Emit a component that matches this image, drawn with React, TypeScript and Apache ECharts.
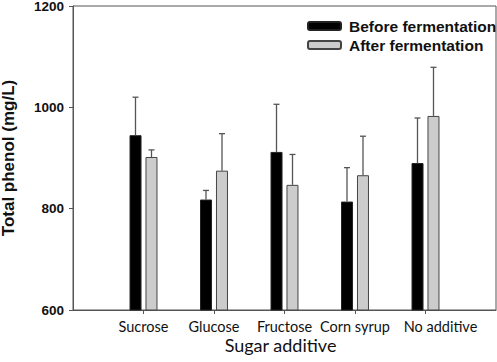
import React, { useEffect, useRef } from "react";
import * as echarts from "echarts";

const categories = ["Sucrose", "Glucose", "Fructose", "Corn syrup", "No additive"];
const beforeMeans = [945, 818, 912, 814, 890];
const beforeErrors = [75, 18, 94, 67, 89];
const afterMeans = [902, 875, 847, 866, 983];
const afterErrors = [14, 73, 60, 77, 96];
const yTicks = { min: 600, max: 1200, interval: 200 };

const BAR_W = 12;
const OFFSET = 8;

function errSeries(means: number[], errs: number[], dx: number) {
  return {
    type: "custom",
    z: 5,
    silent: true,
    data: means.map((m, i) => [i + 1, m, errs[i]]),
    encode: { x: 0, y: [1] },
    renderItem: (params: any, api: any) => {
      const x = api.value(0);
      const m = api.value(1);
      const e = api.value(2);
      const base = api.coord([x, m]);
      const top = api.coord([x, m + e]);
      const cx = base[0] + dx;
      const style = { stroke: "#555", lineWidth: 1.3 };
      return {
        type: "group",
        children: [
          { type: "line", shape: { x1: cx, y1: base[1], x2: cx, y2: top[1] }, style },
          { type: "line", shape: { x1: cx - 3, y1: top[1], x2: cx + 3, y2: top[1] }, style },
        ],
      };
    },
  };
}

export default function App() {
  const ref = useRef<HTMLDivElement>(null);
  useEffect(() => {
    if (!ref.current) return;
    const chart = echarts.init(ref.current, undefined, { renderer: "svg" });
    const axisData: any[] = [
      "",
      ...categories.map((c, i) =>
        i === categories.length - 1
          ? { value: c, textStyle: { padding: [0, 0, 0, 30] } }
          : c
      ),
      "",
    ];
    const pad = (arr: number[]) => [null, ...arr, null];
    chart.setOption({
      animation: false,
      backgroundColor: "#fff",
      grid: {
        left: 73,
        top: 6,
        right: 1,
        bottom: 52,
        show: true,
        borderColor: "#555",
        borderWidth: 1,
        containLabel: false,
        outerBoundsMode: "none",
      },
      legend: {
        data: ["Before fermentation", "After fermentation"],
        orient: "vertical",
        left: 307,
        top: 18,
        padding: 0,
        itemWidth: 33,
        itemHeight: 8,
        itemGap: 3,
        textStyle: {
          fontFamily: "Liberation Sans, Arial",
          fontWeight: "bold",
          fontSize: 15.5,
          color: "#111",
          padding: [0, 0, 0, 3],
        },
      },
      xAxis: {
        type: "category",
        data: axisData,
        boundaryGap: false,
        axisLine: { lineStyle: { color: "#555", width: 1 } },
        axisTick: {
          length: 4,
          interval: (i: number) => i > 0 && i < axisData.length - 1,
          lineStyle: { color: "#555" },
        },
        axisLabel: {
          interval: 0,
          margin: 10,
          lineHeight: 13,
          fontFamily: "Lato, Noto Sans",
          fontSize: 14.5,
          color: "#111",
        },
        name: "Sugar additive",
        nameLocation: "middle",
        nameGap: 27,
        nameMoveOverlap: false,
        nameTextStyle: {
          fontFamily: "Lato, Noto Sans",
          fontSize: 18,
          lineHeight: 16,
          color: "#111",
          padding: [0, 8, 0, 0],
        },
        splitLine: { show: false },
      },
      yAxis: {
        type: "value",
        min: yTicks.min,
        max: yTicks.max,
        interval: yTicks.interval,
        axisLine: { show: true, lineStyle: { color: "#555", width: 1 } },
        axisTick: { show: true, length: 4, lineStyle: { color: "#555" } },
        axisLabel: {
          margin: 9,
          formatter: (v: number) => String(v),
          fontFamily: "Liberation Sans, Arial",
          fontWeight: "bold",
          fontSize: 13.5,
          color: "#111",
        },
        splitLine: { show: false },
        name: "Total phenol (mg/L)",
        nameLocation: "middle",
        nameGap: 56,
        nameTextStyle: {
          fontFamily: "Liberation Sans, Arial",
          fontWeight: "bold",
          fontSize: 17,
          color: "#111",
        },
      },
      series: [
        {
          name: "Before fermentation",
          type: "bar",
          data: pad(beforeMeans),
          barWidth: BAR_W,
          barGap: "33%",
          itemStyle: { color: "#000", borderColor: "#222", borderWidth: 1 },
        },
        {
          name: "After fermentation",
          type: "bar",
          data: pad(afterMeans),
          barWidth: BAR_W,
          barGap: "33%",
          itemStyle: { color: "#cccccc", borderColor: "#444", borderWidth: 1 },
        },
        errSeries(beforeMeans, beforeErrors, -OFFSET),
        errSeries(afterMeans, afterErrors, OFFSET),
      ],
    });
    return () => chart.dispose();
  }, []);
  return <div ref={ref} style={{ width: 497, height: 362, position: "absolute", left: 0, top: 0 }} />;
}
